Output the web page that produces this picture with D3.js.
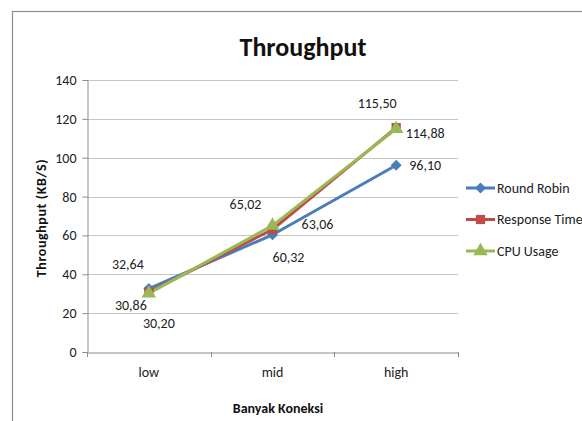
<!DOCTYPE html>
<html><head><meta charset="utf-8">
<script src="https://cdn.jsdelivr.net/npm/d3@7"></script>
<style>
html,body{margin:0;padding:0;background:#fff;}
text{font-family:Carlito, Lato, "Open Sans", sans-serif;}
</style></head>
<body>
<svg id="chart" width="582" height="421"></svg>
<script>
const categories = ["low", "mid", "high"];
const seriesNames = ["Round Robin", "Response Time", "CPU Usage"];
const roundRobin = [32.64, 60.32, 96.10];
const responseTime = [30.86, 63.06, 115.50];
const cpuUsage = [30.20, 65.02, 114.88];
const yTicks = [0, 20, 40, 60, 80, 100, 120, 140];
const labelOffsets = [
  [[-21,-24],[16,23],[29,0]],
  [[-18,13],[45,-5],[-19,-24]],
  [[10,30],[-27,-21],[29,5]]
];

const colors = ["#4A7EBB", "#BE4B48", "#98B954"];
const allSeries = [roundRobin, responseTime, cpuUsage];
const svg = d3.select("#chart");

// outer frame
svg.append("rect").attr("x",12.5).attr("y",11.5).attr("width",600).attr("height",440)
  .attr("fill","none").attr("stroke","#8c8c8c").attr("stroke-width",1.2);

const pLeft = 87, pRight = 458, pTop = 80, pBottom = 352;
const x = d3.scaleBand().domain(categories).range([pLeft, pRight]);
const y = d3.scaleLinear().domain([0, 140]).range([pBottom, pTop]);

// gridlines
svg.append("g").selectAll("line").data(yTicks.filter(d => d > 0)).join("line")
  .attr("x1", pLeft).attr("x2", pRight)
  .attr("y1", d => Math.round(y(d)) + 0.5).attr("y2", d => Math.round(y(d)) + 0.5)
  .attr("stroke", "#c6c6c6").attr("stroke-width", 1);

// y axis
const yAxis = svg.append("g").attr("transform", `translate(${pLeft + 0.5},0)`)
  .call(d3.axisLeft(y).tickValues(yTicks).tickSize(5).tickPadding(6).tickFormat(d3.format("d")));
yAxis.select(".domain").attr("stroke", "#8c8c8c");
yAxis.selectAll(".tick line").attr("stroke", "#8c8c8c");
yAxis.selectAll(".tick text").attr("font-size", 14).attr("fill", "#222")
  .style("font-family", "Carlito, Lato, sans-serif");

// x axis
const xAxis = svg.append("g").attr("transform", `translate(0,${Math.round(pBottom) + 0.5})`)
  .call(d3.axisBottom(x).tickSize(0).tickPadding(15));
xAxis.select(".domain").attr("stroke", "#8c8c8c");
xAxis.selectAll(".tick text").attr("font-size", 14).attr("fill", "#222")
  .style("font-family", "Carlito, Lato, sans-serif");
// category boundary ticks
const bounds = [pLeft].concat(categories.map(c => x(c) + x.bandwidth()));
svg.append("g").selectAll("line").data(bounds).join("line")
  .attr("x1", d => Math.round(d) + 0.5).attr("x2", d => Math.round(d) + 0.5)
  .attr("y1", pBottom).attr("y2", pBottom + 5).attr("stroke", "#8c8c8c");

const cx = c => x(c) + x.bandwidth() / 2;
const line = d3.line().x((d, i) => cx(categories[i])).y(d => y(d));

const symbols = [d3.symbolSquare, d3.symbolSquare, d3.symbolTriangle];
const symSizes = [60, 85, 90];
const symRot = [45, 0, 0];

allSeries.forEach((s, si) => {
  svg.append("path").datum(s).attr("d", line).attr("fill", "none")
    .attr("stroke", colors[si]).attr("stroke-width", 3).attr("stroke-linejoin", "round");
});
allSeries.forEach((s, si) => {
  svg.append("g").selectAll("path").data(s).join("path")
    .attr("transform", (d, i) => `translate(${cx(categories[i])},${y(d)}) rotate(${symRot[si]})`)
    .attr("d", d3.symbol(symbols[si], symSizes[si])).attr("fill", colors[si]);
});

// data labels
const fmt = v => d3.format(".2f")(v).replace(".", ",");
allSeries.forEach((s, si) => {
  svg.append("g").selectAll("text").data(s).join("text")
    .attr("x", (d, i) => cx(categories[i]) + labelOffsets[si][i][0])
    .attr("y", (d, i) => y(d) + labelOffsets[si][i][1])
    .attr("text-anchor", "middle").attr("dominant-baseline", "central")
    .attr("font-size", 14).attr("fill", "#222").text(fmt);
});

// title
svg.append("text").attr("x", 303).attr("y", 47).attr("text-anchor", "middle")
  .attr("dominant-baseline", "central").attr("font-size", 26).attr("font-weight", "bold")
  .attr("fill", "#111").text("Throughput");

// axis titles
svg.append("text").attr("transform", "translate(41,218) rotate(-90)")
  .attr("text-anchor", "middle").attr("dominant-baseline", "central")
  .attr("font-size", 14).attr("font-weight", "bold").attr("fill", "#111")
  .attr("letter-spacing", 0.6)
  .text("Throughput  (KB/S)");
svg.append("text").attr("x", 278).attr("y", 408).attr("text-anchor", "middle")
  .attr("dominant-baseline", "central").attr("font-size", 14).attr("font-weight", "bold")
  .attr("fill", "#111").text("Banyak Koneksi");

// legend
const legend = svg.append("g");
seriesNames.forEach((n, i) => {
  const ly = 188 + i * 31.5;
  legend.append("line").attr("x1", 466).attr("x2", 495).attr("y1", ly).attr("y2", ly)
    .attr("stroke", colors[i]).attr("stroke-width", 3);
  legend.append("path").attr("transform", `translate(480.5,${ly}) rotate(${symRot[i]})`)
    .attr("d", d3.symbol(symbols[i], symSizes[i])).attr("fill", colors[i]);
  legend.append("text").attr("x", 497).attr("y", ly).attr("dominant-baseline", "central")
    .attr("font-size", 14).attr("fill", "#222").text(n);
});
</script>
</body></html>
